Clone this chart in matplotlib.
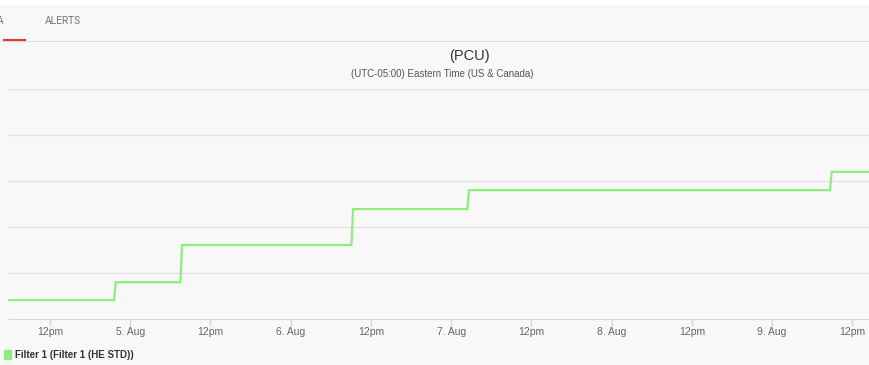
import matplotlib
matplotlib.use("Agg")
import matplotlib.pyplot as plt
import matplotlib.dates as mdates
import pandas as pd

# PCU readings (sampled when the value changes)
times = [
    "2023-08-04 05:40", "2023-08-04 21:35", "2023-08-04 21:50",
    "2023-08-05 07:30", "2023-08-05 07:45", "2023-08-06 09:05",
    "2023-08-06 09:20", "2023-08-07 02:25", "2023-08-07 02:40",
    "2023-08-09 08:40", "2023-08-09 08:55", "2023-08-09 14:35",
]
pcu = [4.1, 4.1, 8.0, 8.0, 16.1, 16.1, 23.9, 23.9, 28.0, 28.0, 32.0, 32.0]
tick_times = pd.date_range("2023-08-04 12:00", "2023-08-09 12:00", freq="12h")
tick_labels = ["12pm", "5. Aug", "12pm", "6. Aug", "12pm", "7. Aug",
               "12pm", "8. Aug", "12pm", "9. Aug", "12pm"]
series_name = "Filter 1 (Filter 1 (HE STD))"

W, H = 869, 365
bg = "#f8f8f8"
fig = plt.figure(figsize=(W / 100, H / 100), dpi=100, facecolor=bg)
plt.rcParams["font.family"] = ["Liberation Sans", "DejaVu Sans"]

ax = fig.add_axes([8 / W, 1 - 319 / H, (W - 8) / W, (319 - 89) / H])
ax.set_facecolor(bg)

t = pd.to_datetime(times)
ax.plot(t, pcu, color="#90ed7d", lw=1.6, solid_joinstyle="miter")

ax.set_xlim(pd.Timestamp("2023-08-04 05:43"), pd.Timestamp("2023-08-09 14:30"))
ax.set_ylim(0, 50)
ax.set_yticks([10, 20, 30, 40, 50])
ax.yaxis.grid(True, color="#e3e3e3", lw=1)
ax.tick_params(axis="y", left=False, labelleft=False)

ax.set_xticks(tick_times)
ax.set_xticklabels(tick_labels)
ax.tick_params(axis="x", colors="#ccd6eb", length=5, width=1, pad=1,
               labelcolor="#666666", labelsize=7.5)
for side in ("top", "right", "left"):
    ax.spines[side].set_visible(False)
ax.spines["bottom"].set_color("#ccd6eb")
ax.set_axisbelow(True)

# titles
fig.text(469 / W, 1 - 56 / H, "(PCU)", ha="center", va="center",
         fontsize=10.5, color="#333333")
fig.text(442 / W, 1 - 74 / H, "(UTC-05:00) Eastern Time (US & Canada)",
         ha="center", va="center", fontsize=7, color="#555555")

# tab bar
fig.text(45 / W, 1 - 21 / H, "ALERTS", ha="left", va="center",
         fontsize=7.3, color="#757575", family=["Roboto", "DejaVu Sans"])
fig.text(-3 / W, 1 - 21 / H, "A", ha="left", va="center",
         fontsize=7.3, color="#757575", family=["Roboto", "DejaVu Sans"])
fig.add_artist(plt.Line2D([0, 1], [1 - 41 / H, 1 - 41 / H],
                          color="#dddddd", lw=0.8, transform=fig.transFigure))
fig.add_artist(plt.Line2D([4 / W, 25 / W], [1 - 40 / H, 1 - 40 / H],
                          color="#e53935", lw=1.5, transform=fig.transFigure))
fig.add_artist(plt.Rectangle((0, 1 - 4 / H), 1, 4 / H, color="white",
                             transform=fig.transFigure))

# legend
fig.add_artist(plt.Rectangle((4 / W, 1 - 359 / H), 7 / W, 9 / H,
                             color="#90ed7d", transform=fig.transFigure))
fig.text(15 / W, 1 - 355 / H, series_name, ha="left", va="center",
         fontsize=7, fontweight="bold", color="#333333")

fig.savefig("out.png", dpi=100, facecolor=bg)
